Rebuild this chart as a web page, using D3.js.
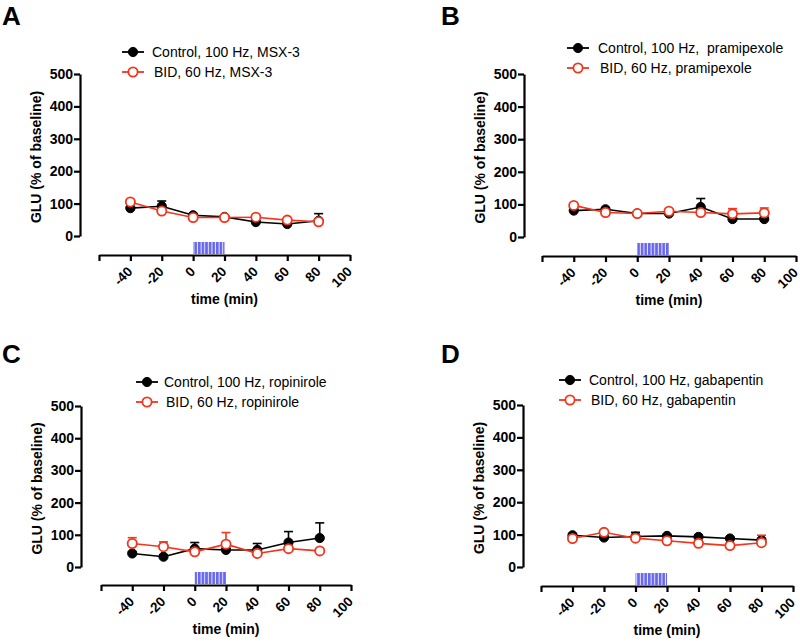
<!DOCTYPE html>
<html>
<head>
<meta charset="utf-8">
<script src="https://cdn.jsdelivr.net/npm/d3@7"></script>
<style>
  html, body { margin: 0; padding: 0; background: #fff; }
  svg { display: block; font-family: "Liberation Sans", Arial, sans-serif; }
</style>
</head>
<body>
<svg id="chart" width="800" height="643"></svg>
<script>
// ---------------- DATA ----------------
const panelLetters = ["A", "B", "C", "D"];
const timePoints = [-40, -20, 0, 20, 40, 60, 80];
const xTickValues = [-60, -40, -20, 0, 20, 40, 60, 80, 100];
const yTickValues = [0, 100, 200, 300, 400, 500];
const stimWindow = [0, 20];

const controlLabels = ["Control, 100 Hz, MSX-3", "Control, 100 Hz,  pramipexole", "Control, 100 Hz, ropinirole", "Control, 100 Hz, gabapentin"];
const bidLabels = ["BID, 60 Hz, MSX-3", "BID, 60 Hz, pramipexole", "BID, 60 Hz, ropinirole", "BID, 60 Hz, gabapentin"];

const controlA = [86, 92, 64, 59, 43, 37, 47];
const controlAErr = [4, 16, 5, 4, 4, 4, 22];
const bidA = [105, 77, 57, 57, 58, 49, 44];
const bidAErr = [5, 5, 3, 3, 4, 4, 4];

const controlB = [81, 85, 72, 72, 92, 55, 55];
const controlBErr = [4, 4, 3, 3, 26, 5, 5];
const bidB = [97, 75, 72, 79, 75, 71, 74];
const bidBErr = [4, 4, 3, 3, 4, 16, 15];

const controlC = [42, 32, 57, 53, 53, 76, 90];
const controlCErr = [5, 5, 19, 5, 20, 34, 47];
const bidC = [73, 63, 47, 71, 42, 57, 50];
const bidCErr = [18, 15, 4, 36, 4, 4, 4];

const controlD = [98, 91, 94, 96, 93, 88, 83];
const controlDErr = [4, 4, 13, 4, 4, 4, 4];
const bidD = [88, 107, 89, 81, 73, 66, 75];
const bidDErr = [4, 4, 4, 4, 4, 4, 23];

const controlSeries = [controlA, controlB, controlC, controlD];
const controlErrs = [controlAErr, controlBErr, controlCErr, controlDErr];
const bidSeries = [bidA, bidB, bidC, bidD];
const bidErrs = [bidAErr, bidBErr, bidCErr, bidDErr];

// ---------------- LAYOUT ----------------
const layouts = [
  { yAxisX: 80,  yTop: 74,  yBot: 236, axisY: 255, xL: 99,  xR: 350, labX: 2,   labY: 25,  legX: 133, legY: 52,  txtX: 152 },
  { yAxisX: 524, yTop: 74,  yBot: 237, axisY: 256, xL: 542, xR: 796, labX: 441, labY: 25,  legX: 578, legY: 48,  txtX: 598 },
  { yAxisX: 81,  yTop: 406, yBot: 567, axisY: 585, xL: 101, xR: 351, labX: 2,   labY: 363, legX: 147, legY: 382, txtX: 164 },
  { yAxisX: 523, yTop: 405, yBot: 567, axisY: 586, xL: 541, xR: 793, labX: 441, labY: 363, legX: 570, legY: 380, txtX: 589 }
];

const RED = "#f4351c";
const BLACK = "#000";
const BLUE = "#6767ee";

const svg = d3.select("#chart");

const defs = svg.append("defs");
const pat = defs.append("pattern")
  .attr("id", "stripes").attr("patternUnits", "userSpaceOnUse")
  .attr("width", 3.6).attr("height", 10);
pat.append("rect").attr("width", 3.6).attr("height", 10).attr("fill", BLUE);
pat.append("rect").attr("x", 2.6).attr("width", 1).attr("height", 10).attr("fill", "#e8e8ff");

panelLetters.forEach((letter, i) => {
  const L = layouts[i];
  const g = svg.append("g");
  const x = d3.scaleLinear().domain([-60, 100]).range([L.xL, L.xR]);
  const y = d3.scaleLinear().domain([0, 500]).range([L.yBot, L.yTop]);

  // panel letter
  g.append("text").attr("x", L.labX).attr("y", L.labY)
    .attr("font-size", 26).attr("font-weight", "bold").text(letter);

  // y axis
  const yAx = g.append("g").attr("transform", `translate(${L.yAxisX},0)`)
    .call(d3.axisLeft(y).tickValues(yTickValues).tickSize(6).tickSizeOuter(0).tickPadding(1));
  yAx.select(".domain").attr("stroke-width", 2.2).attr("stroke", "#000");
  yAx.selectAll(".tick line").attr("stroke-width", 2.2).attr("stroke", "#000");
  yAx.selectAll(".tick text").attr("font-size", 14).attr("font-weight", "bold")
    .attr("font-family", "Liberation Sans, Arial, sans-serif").attr("fill", "#000");

  // y title
  g.append("text")
    .attr("transform", `translate(${L.yAxisX - 39},${(L.yTop + L.yBot) / 2 + 2}) rotate(-90)`)
    .attr("text-anchor", "middle").attr("font-size", 14).attr("font-weight", "bold")
    .text("GLU (% of baseline)");

  // x axis
  const xAx = g.append("g").attr("transform", `translate(0,${L.axisY})`)
    .call(d3.axisBottom(x).tickValues(xTickValues).tickSize(6).tickSizeOuter(0)
      .tickFormat(d => d === -60 ? "" : d));
  xAx.select(".domain").attr("stroke-width", 2.2).attr("stroke", "#000");
  xAx.selectAll(".tick line").attr("stroke-width", 2.2).attr("stroke", "#000");
  xAx.selectAll(".tick text")
    .attr("font-size", 13.5).attr("font-weight", "bold")
    .attr("font-family", "Liberation Sans, Arial, sans-serif").attr("fill", "#000")
    .attr("text-anchor", "end")
    .attr("x", 0).attr("y", 0).attr("dy", "0.35em")
    .attr("transform", "translate(-1,14) rotate(-45)");

  // x title
  g.append("text")
    .attr("x", (L.xL + L.xR) / 2).attr("y", L.axisY + 49)
    .attr("text-anchor", "middle").attr("font-size", 14).attr("font-weight", "bold")
    .text("time (min)");

  // stimulation bar
  g.append("rect")
    .attr("x", x(stimWindow[0])).attr("y", L.axisY - 13)
    .attr("width", x(stimWindow[1]) - x(stimWindow[0])).attr("height", 12)
    .attr("fill", "url(#stripes)");

  const drawSeries = (vals, errs, color, open) => {
    const pts = timePoints.map((t, k) => ({ t, v: vals[k], e: errs[k] }));
    g.append("path").datum(pts)
      .attr("fill", "none").attr("stroke", color).attr("stroke-width", 1.6)
      .attr("d", d3.line().x(d => x(d.t)).y(d => y(d.v)));
    const eb = g.append("g").attr("stroke", color).attr("stroke-width", 1.6);
    pts.forEach(d => {
      eb.append("line").attr("x1", x(d.t)).attr("x2", x(d.t))
        .attr("y1", y(d.v)).attr("y2", y(d.v + d.e));
      eb.append("line").attr("x1", x(d.t) - 4.5).attr("x2", x(d.t) + 4.5)
        .attr("y1", y(d.v + d.e)).attr("y2", y(d.v + d.e));
    });
    g.append("g").selectAll("circle").data(pts).join("circle")
      .attr("cx", d => x(d.t)).attr("cy", d => y(d.v))
      .attr("r", 4.6)
      .attr("fill", open ? "#fff" : color)
      .attr("stroke", color).attr("stroke-width", open ? 1.8 : 1);
  };

  drawSeries(controlSeries[i], controlErrs[i], BLACK, false);
  drawSeries(bidSeries[i], bidErrs[i], RED, true);

  // legend
  const legend = [
    { label: controlLabels[i], color: BLACK, open: false, dy: 0, tx: L.txtX },
    { label: bidLabels[i], color: RED, open: true, dy: 20, tx: L.txtX + 2 }
  ];
  legend.forEach(it => {
    const cy = L.legY + it.dy;
    g.append("line").attr("x1", L.legX - 11).attr("x2", L.legX + 11)
      .attr("y1", cy).attr("y2", cy).attr("stroke", it.color).attr("stroke-width", 1.8);
    g.append("circle").attr("cx", L.legX).attr("cy", cy).attr("r", 4.6)
      .attr("fill", it.open ? "#fff" : it.color).attr("stroke", it.color)
      .attr("stroke-width", it.open ? 1.8 : 1);
    g.append("text").attr("x", it.tx).attr("y", cy + 5)
      .attr("font-size", 14).attr("xml:space", "preserve").style("white-space", "pre")
      .text(it.label);
  });
});
</script>
</body>
</html>
